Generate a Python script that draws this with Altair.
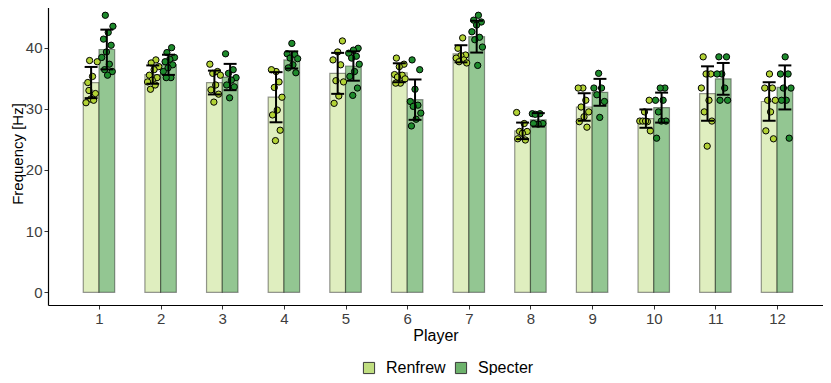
import altair as alt
import pandas as pd

players = list(range(1, 13))
series_names = ["Renfrew", "Specter"]

renfrew_mean = [34.3, 35.6, 34.3, 31.9, 35.8, 35.9, 39.0, 26.4, 30.3, 28.4, 32.5, 31.2]
renfrew_sd = [2.55, 1.5, 1.95, 4.1, 3.35, 1.55, 1.4, 1.35, 2.25, 1.5, 4.45, 3.15]
specter_mean = [39.7, 37.2, 35.2, 38.0, 37.0, 31.5, 41.8, 28.2, 32.7, 30.2, 34.9, 33.5]
specter_sd = [3.25, 1.65, 2.15, 1.4, 2.4, 3.3, 2.6, 1.1, 2.2, 2.45, 2.6, 3.6]

renfrew_points = [
    [37.9, 37.7, 35.3, 34.3, 32.5, 31.6, 31.0, 31.4, 33.0],
    [38.0, 37.5, 36.9, 36.4, 35.5, 35.1, 34.7, 34.4, 33.9, 33.2],
    [37.3, 36.1, 35.8, 35.5, 33.9, 33.1, 32.4, 31.1],
    [36.1, 36.4, 34.4, 33.5, 31.9, 29.8, 29.0, 26.5, 24.8],
    [41.1, 39.3, 38.0, 37.2, 34.6, 34.4, 32.1, 30.9],
    [38.3, 37.3, 36.9, 35.6, 35.5, 35.2, 34.9, 34.2, 34.2],
    [41.6, 39.9, 38.8, 38.7, 38.3, 38.0, 37.7, 37.5],
    [29.4, 27.6, 26.3, 26.3, 26.0, 25.1, 24.9],
    [33.4, 33.4, 31.4, 30.3, 29.5, 28.7, 27.9, 27.0],
    [31.4, 29.5, 28.0, 27.9, 28.0, 26.4, 28.0],
    [38.5, 35.7, 35.7, 33.4, 31.4, 29.5, 28.0, 23.9],
    [35.7, 33.4, 33.4, 31.4, 31.4, 29.5, 26.4, 25.1],
]
specter_points = [
    [45.3, 43.5, 42.5, 41.4, 40.4, 39.3, 38.4, 37.3, 36.4, 36.1, 35.5],
    [40.0, 39.2, 38.4, 38.1, 37.7, 37.2, 36.7, 36.1, 35.1, 35.1],
    [39.0, 36.4, 35.8, 35.1, 34.7, 33.9, 33.6, 31.8],
    [40.7, 39.0, 38.9, 38.3, 38.2, 37.2, 36.7, 35.9],
    [39.9, 39.6, 39.1, 38.6, 38.3, 37.3, 36.1, 35.3, 33.4, 32.2],
    [38.0, 36.4, 33.2, 31.2, 30.6, 30.4, 29.3, 28.3, 27.2],
    [45.3, 44.5, 44.2, 43.7, 42.6, 41.7, 41.3, 40.1, 37.1],
    [29.2, 29.2, 29.1, 27.6, 27.5, 27.6],
    [35.8, 33.4, 33.4, 32.3, 31.2, 28.6],
    [33.4, 33.4, 31.4, 31.4, 29.5, 28.0, 28.0, 25.2],
    [38.5, 38.5, 35.7, 35.7, 33.4, 31.4, 31.4],
    [38.5, 35.7, 35.7, 33.4, 33.4, 31.4, 31.4, 25.2],
]

summary_rows = []
point_rows = []
for i, p in enumerate(players):
    summary_rows.append({"player": p, "series": "Renfrew", "mean": renfrew_mean[i], "sd": renfrew_sd[i]})
    summary_rows.append({"player": p, "series": "Specter", "mean": specter_mean[i], "sd": specter_sd[i]})
    for k, v in enumerate(renfrew_points[i]):
        point_rows.append({"player": p, "series": "Renfrew", "k": k, "value": v})
    for k, v in enumerate(specter_points[i]):
        point_rows.append({"player": p, "series": "Specter", "k": k, "value": v})

summary = pd.DataFrame(summary_rows)
points = pd.DataFrame(point_rows)

FONT = "Liberation Sans"
half = 0.1275

xscale = alt.Scale(domain=[0.173, 12.746], nice=False, zero=False)
yscale = alt.Scale(domain=[-2.08, 47.47], nice=False, zero=False)

xaxis = alt.Axis(values=players, format="d", title="Player", grid=False,
                 labelFontSize=15, titleFontSize=16, titlePadding=1, labelPadding=2)
yaxis = alt.Axis(values=[0, 10, 20, 30, 40], title="Frequency [Hz]", grid=False,
                 labelFontSize=15, titleFontSize=15, titlePadding=0, labelPadding=2)

base_s = alt.Chart(summary).transform_calculate(
    center=f"datum.player + (datum.series == 'Renfrew' ? -{half} : {half})"
).transform_calculate(
    x0=f"datum.center - {half}",
    x1=f"datum.center + {half}",
    lo="datum.mean - datum.sd",
    hi="datum.mean + datum.sd",
    c0="datum.center - 0.105",
    c1="datum.center + 0.105",
)

bars = base_s.mark_rect(stroke="black", strokeOpacity=0.4, strokeWidth=1.2).encode(
    x=alt.X("x0:Q", scale=xscale, axis=xaxis),
    x2="x1:Q",
    y=alt.Y("mean:Q", scale=yscale, axis=yaxis),
    y2=alt.datum(0),
    fill=alt.Fill("series:N", scale=alt.Scale(domain=series_names, range=["#C0DE80", "#6DB26C"]),
                  legend=alt.Legend(title=None, orient="none", legendX=313, legendY=358,
                                    direction="horizontal", symbolType="square", symbolSize=125,
                                    labelFontSize=16, labelOffset=9, columnPadding=7, padding=0,
                                    symbolStrokeColor="#3a3a3a", symbolStrokeWidth=1,
                                    labelFont=FONT, labelColor="black", symbolOpacity=1)),
    fillOpacity=alt.FillOpacity("series:N", scale=alt.Scale(domain=series_names, range=[0.5, 0.74]),
                                legend=None),
)

pts = alt.Chart(points).transform_calculate(
    center=f"datum.player + (datum.series == 'Renfrew' ? -{half} : {half})",
    jit="((datum.k * 0.6180339887 + datum.player * 0.377) % 1 - 0.5) * 0.2",
).transform_calculate(
    px="datum.center + datum.jit"
).mark_circle(size=40, stroke="black", strokeWidth=1, opacity=1).encode(
    x=alt.X("px:Q", scale=xscale),
    y=alt.Y("value:Q", scale=yscale),
    color=alt.Color("series:N", scale=alt.Scale(domain=series_names, range=["#B2D235", "#1E8A2C"]),
                    legend=None),
)

err = base_s.mark_rule(color="black", strokeWidth=2).encode(
    x=alt.X("center:Q", scale=xscale),
    y=alt.Y("lo:Q", scale=yscale),
    y2="hi:Q",
)
cap_hi = base_s.mark_rule(color="black", strokeWidth=2).encode(
    x=alt.X("c0:Q", scale=xscale),
    x2="c1:Q",
    y=alt.Y("hi:Q", scale=yscale),
)
cap_lo = base_s.mark_rule(color="black", strokeWidth=2).encode(
    x=alt.X("c0:Q", scale=xscale),
    x2="c1:Q",
    y=alt.Y("lo:Q", scale=yscale),
)

chart = alt.layer(bars, pts, err, cap_hi, cap_lo).resolve_scale(
    color="independent", fill="independent"
).properties(
    width=775, height=303,
    autosize=alt.AutoSizeParams(type="none"),
    padding={"left": 40, "top": -6, "right": 0, "bottom": 70},
).configure_view(stroke=None).configure_axis(
    domainColor="black", domainWidth=1.2, tickColor="#333333", tickSize=4, tickWidth=1,
    labelColor="#3D3D3D", titleColor="black", labelFont=FONT, titleFont=FONT,
    titleFontWeight="normal",
).configure_legend(labelFont=FONT)

chart.save("out.html", embed_options={"renderer": "svg", "actions": False})
